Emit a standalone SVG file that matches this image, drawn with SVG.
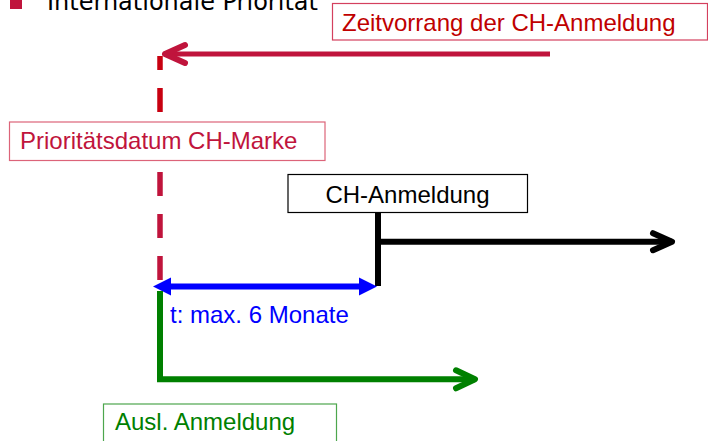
<svg xmlns="http://www.w3.org/2000/svg" width="708" height="441" viewBox="0 0 708 441">
  <style>
    .lbl { font-family: "Liberation Sans", Arial, sans-serif; font-size: 24px; }
    .title { font-family: "DejaVu Sans", Verdana, sans-serif; font-size: 24px; fill: #000; }
    .box { fill: #fff; stroke-width: 1.2; }
    .thick { fill: none; stroke-width: 6; }
    .head { fill: none; stroke-width: 6; stroke-linecap: round; stroke-linejoin: round; }
  </style>
  <defs>
    <marker id="chev-red" markerUnits="userSpaceOnUse" markerWidth="40" markerHeight="40" viewBox="-30 -20 40 40" refX="0" refY="0" orient="auto" overflow="visible">
      <path d="M-20,-9 L0,0 L-20,9" class="head" stroke="#C0143C"/>
    </marker>
    <marker id="chev-black" markerUnits="userSpaceOnUse" markerWidth="40" markerHeight="40" viewBox="-30 -20 40 40" refX="0" refY="0" orient="auto" overflow="visible">
      <path d="M-19,-8.5 L0,0 L-19,8.5" class="head" stroke="#000"/>
    </marker>
    <marker id="chev-green" markerUnits="userSpaceOnUse" markerWidth="40" markerHeight="40" viewBox="-30 -20 40 40" refX="0" refY="0" orient="auto" overflow="visible">
      <path d="M-19,-9 L0,0 L-19,9" class="head" stroke="#008000"/>
    </marker>
    <marker id="tri-blue" markerUnits="userSpaceOnUse" markerWidth="30" markerHeight="30" viewBox="-20 -12 24 24" refX="0" refY="0" orient="auto-start-reverse" overflow="visible">
      <path d="M-18,-9 L0,0 L-18,9 Z" fill="#0000FF"/>
    </marker>
  </defs>

  <!-- title (cut off at top) -->
  <g id="title">
    <rect x="10" y="-3" width="12" height="12" fill="#C0143C"/>
    <text class="title" x="47" y="10">Internationale Priorität</text>
  </g>

  <g id="connectors">
    <!-- red priority arrow -->
    <line x1="550" y1="54" x2="165" y2="54" stroke="#C0143C" stroke-width="5" marker-end="url(#chev-red)"/>
    <!-- red dashed vertical -->
    <line x1="160" y1="56" x2="160" y2="122" stroke="#C80010" stroke-width="5.5" stroke-dasharray="24 18" stroke-dashoffset="10"/>
    <line x1="160" y1="122" x2="160" y2="280" stroke="#C0143C" stroke-width="5.5" stroke-dasharray="24 18" stroke-dashoffset="34"/>
    <!-- black CH-Anmeldung line -->
    <line x1="378" y1="212" x2="378" y2="286" class="thick" stroke="#000"/>
    <line x1="378" y1="241.7" x2="672" y2="241.7" class="thick" stroke="#000" marker-end="url(#chev-black)"/>
    <!-- blue double arrow -->
    <line x1="169" y1="286.5" x2="360" y2="286.5" class="thick" stroke="#0000FF"/>
    <path d="M153,286.5 L171,277.5 L171,295.5 Z" fill="#0000FF"/>
    <path d="M377,286.5 L359,277.5 L359,295.5 Z" fill="#0000FF"/>
    <!-- green foreign filing -->
    <polyline points="160,291 160,379.3 475,379.3" class="thick" stroke="#008000" stroke-linejoin="miter" marker-end="url(#chev-green)"/>
  </g>

  <g id="zeitvorrang">
    <rect class="box" x="332.5" y="3.5" width="375" height="36.5" stroke="#D4405E"/>
    <text class="lbl" x="342" y="31" fill="#C00000">Zeitvorrang der CH-Anmeldung</text>
  </g>

  <g id="prioritaetsdatum">
    <rect class="box" x="9.5" y="122" width="315.5" height="38.5" stroke="#DC6479"/>
    <text class="lbl" x="20" y="149.3" fill="#C0143C">Prioritätsdatum CH-Marke</text>
  </g>

  <g id="ch-anmeldung">
    <rect class="box" x="288" y="174.5" width="239.5" height="38" stroke="#000"/>
    <text class="lbl" x="407.5" y="203.3" text-anchor="middle" fill="#000">CH-Anmeldung</text>
  </g>

  <g id="frist">
    <text class="lbl" x="170" y="322.7" fill="#0000FF">t: max. 6 Monate</text>
  </g>

  <g id="ausl-anmeldung">
    <rect class="box" x="103.5" y="404" width="233" height="50" stroke="#4DA64D"/>
    <text class="lbl" x="115" y="430" fill="#008000">Ausl. Anmeldung</text>
  </g>
</svg>
